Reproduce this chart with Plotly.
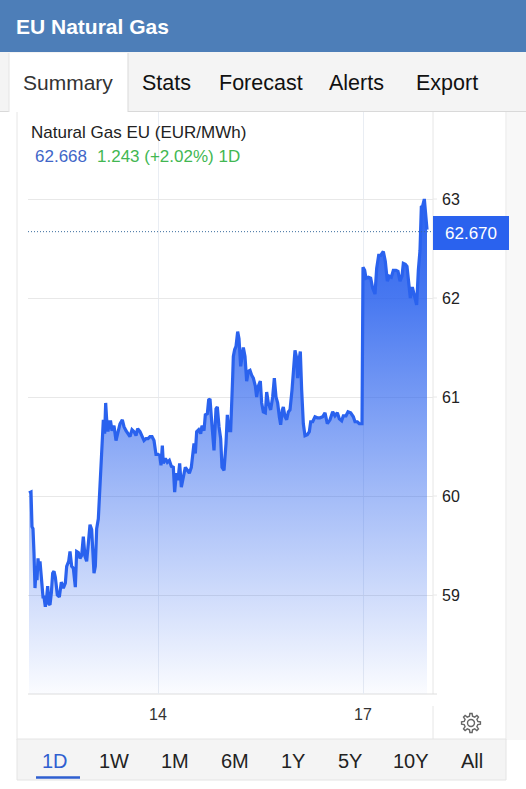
import numpy as np
import plotly.graph_objects as go

W, H = 526, 789

sample_no = [27,33,36,39,42,45,48,51,54,57,60,63,66,69,72,76,80,83,87,90,94,98,102,106,112,118,124,130,136,140,146,150,155,160,166,170,175,180,185,190,195,200,205,210,215,218,222,226,230,235,240,245,250,254,257,260,264,268,272,276,282,288,294,300,307,312,318,324,330,336,342,348,353,360,366,372,378,384,390,396,402,408,414,419,423,427,430,436,442,448,454,460,464,469,474,479,484,490,496,502,508,514,518,522,526,530,536,542,546,552,556,562,566,570,574,578,582,588,592,597,602,606,612,618,622,626,632,638,
640,644,648,653,657,662,666,670,675,680,685,690,695,700,706,710,715,721,725,730,736,740,745,752,758,763,768,773,778,782,787,790,795,800,805,810,816,821,825,829,833,837,841,845,850,855,862,868,872,878,885,892,900,908,915,922,930,938,945,952,958,965,970,978,984,992,1000,1005,1012,1018,1026,
1029,1034,1038,1045,1052,1058,1065,1070,1076,1082,1090,1096,1102,1108,1114,1120,1128,1134,1140,1146,1150,1156,1161,1166,1171,1177,1183,1190,1195,1200,1204,1208,1213,1218,1221]

price = [60.03,60.04,59.69,59.67,59.42,59.07,59.24,59.15,59.37,59.25,59.34,59.22,59.15,58.98,58.98,58.88,58.98,59.09,58.91,58.90,59.02,59.22,59.24,59.18,59.00,58.98,59.13,59.07,59.12,59.29,59.34,59.44,59.29,59.27,59.08,59.44,59.43,59.37,59.40,59.59,59.39,59.34,59.52,59.71,59.66,59.42,59.22,59.29,59.67,59.77,60.09,60.46,60.77,60.63,60.94,60.77,60.65,60.75,60.75,60.66,60.71,60.56,60.66,60.73,60.77,60.70,60.66,60.63,60.60,60.67,60.65,60.61,60.68,60.65,60.61,60.56,60.58,60.58,60.60,60.60,60.56,60.42,60.42,60.41,60.31,60.51,60.33,60.38,60.34,60.36,60.30,60.29,60.04,60.23,60.16,60.33,60.09,60.19,60.29,60.26,60.23,60.29,60.45,60.53,60.43,60.65,60.67,60.63,60.71,60.66,60.82,60.83,60.97,60.98,60.80,60.63,60.46,60.88,60.90,60.70,60.58,60.29,60.26,60.53,60.82,60.66,60.66,61.20,
61.41,61.48,61.51,61.66,61.59,61.31,61.41,61.50,61.41,61.16,61.26,61.27,61.22,61.19,61.11,61.00,61.11,61.16,60.94,60.85,60.84,61.05,60.94,60.87,61.00,61.19,61.00,60.94,60.80,60.72,60.87,60.90,60.80,60.77,60.85,60.87,61.07,61.34,61.47,61.41,61.19,61.37,61.46,61.07,60.73,60.61,60.62,60.65,60.75,60.75,60.80,60.79,60.79,60.80,60.84,60.73,60.77,60.85,60.81,60.84,60.78,60.76,60.81,60.81,60.85,60.84,60.80,60.75,60.75,60.73,60.73,
62.31,62.28,62.20,62.21,62.20,62.10,62.04,62.30,62.43,62.43,62.47,62.37,62.17,62.22,62.21,62.28,62.28,62.27,62.17,62.22,62.35,62.34,62.32,62.11,62.00,62.11,62.01,61.93,62.28,62.48,62.92,62.93,63.00,62.84,62.69]

y_ticks = [59, 60, 61, 62, 63]
x_tick_samples = [414, 1029]
x_tick_labels = ["14", "17"]
last_price = 62.67
last_label = "62.670"
title = "EU Natural Gas"
tabs = ["Summary", "Stats", "Forecast", "Alerts", "Export"]
ranges = ["1D", "1W", "1M", "6M", "1Y", "5Y", "10Y", "All"]

FONT = "Liberation Sans, Arial, sans-serif"
px = lambda x: x / W
py = lambda y: 1 - y / H


def rect(x0, y0, x1, y1, fill, line=None, layer="below"):
    return dict(type="rect", xref="paper", yref="paper", x0=px(x0), x1=px(x1), y0=py(y1), y1=py(y0),
                fillcolor=fill, line=dict(color=line or fill, width=1 if line else 0), layer=layer)


def hline(x0, y0, x1, y1, color, width=1):
    return dict(type="line", xref="paper", yref="paper", x0=px(x0), x1=px(x1), y0=py(y0), y1=py(y1),
                line=dict(color=color, width=width), layer="below")


def text(x, y, s, size, color, anchor="left", bold=False):
    return dict(xref="paper", yref="paper", x=px(x), y=py(y), text=f"<b>{s}</b>" if bold else s,
                showarrow=False, xanchor=anchor, yanchor="middle", align=anchor,
                font=dict(family=FONT, size=size, color=color), borderpad=0, borderwidth=0)


def gear_path(cx, cy, r_out, r_in, teeth=8):
    pts = []
    for i in range(teeth):
        a = 2 * np.pi * i / teeth
        d = 2 * np.pi / teeth
        for frac, r in [(-0.28, r_in), (-0.15, r_out), (0.15, r_out), (0.28, r_in)]:
            t = a + frac * d
            pts.append((cx + r * np.cos(t), cy + r * np.sin(t)))
    return "M" + " L".join(f"{px(x):.5f},{py(y):.5f}" for x, y in pts) + " Z"


shapes = [
    rect(0, 112, W, 740, "#ffffff"),
    rect(507, 112, W, 740, "#f8f8f8"),
    rect(0, 0, W, 52, "#4d7eb8"),
    rect(0, 52, W, 112, "#f4f4f4"),
    hline(0, 111.5, W, 111.5, "#d9d9d9"),
    rect(9, 53, 128, 112, "#ffffff"),
    hline(128, 53, 128, 112, "#d9d9d9"),
    hline(9, 53, 9, 112, "#e4e4e4"),
    hline(17, 112, 17, 740, "#e6e6e6"),
    hline(506, 112, 506, 740, "#e6e6e6"),
    hline(433, 112, 433, 694, "#e6e6e6"),
    hline(433, 706, 433, 739, "#e6e6e6"),
    hline(28, 694, 437, 694, "#dedede"),
    hline(433, 199, 437, 199, "#e8e8e8"),
    hline(433, 298, 437, 298, "#e8e8e8"),
    hline(433, 397, 437, 397, "#e8e8e8"),
    hline(433, 496, 437, 496, "#e8e8e8"),
    hline(433, 595, 437, 595, "#e8e8e8"),
    dict(type="rect", xref="paper", yref="paper", x0=px(17), x1=px(506), y0=py(780), y1=py(739),
         fillcolor="#f4f4f4", line=dict(color="#e4e4e4", width=1), layer="below"),
    hline(36, 777.5, 80, 777.5, "#2f5fd0", 2.5),
    dict(type="line", xref="paper", yref="y", x0=px(28), x1=px(433), y0=last_price, y1=last_price,
         line=dict(color="#3a6d9e", width=1, dash="1px,2px"), layer="above"),
    rect(433, 216, 509, 250, "#2a62ee", layer="above"),
    dict(type="path", xref="paper", yref="paper", path=gear_path(471, 723, 9.5, 7), fillcolor="rgba(0,0,0,0)",
         line=dict(color="#666666", width=1.4), layer="above"),
    dict(type="circle", xref="paper", yref="paper", x0=px(467.5), x1=px(474.5), y0=py(726.5), y1=py(719.5),
         fillcolor="rgba(0,0,0,0)", line=dict(color="#666666", width=1.4), layer="above"),
]

annotations = [
    text(16, 26, title, 21, "#ffffff", bold=True),
    text(31, 132, "Natural Gas EU (EUR/MWh)", 17, "#222222"),
    text(35, 157, "62.668", 17, "#3f66c8"),
    text(97, 157, "1.243 (+2.02%) 1D", 17, "#42b752"),
    text(471, 233.5, last_label, 17, "#ffffff", "center"),
]
for x, s in zip([23, 142, 219, 329, 416], tabs):
    annotations.append(text(x, 83, s, 21.5 if s != "Summary" else 21, "#333333" if s == "Summary" else "#111111"))
for x, s in zip([55, 114, 175, 235, 293, 350, 411, 472], ranges):
    annotations.append(text(x, 761, s, 20, "#2f5fd0" if s == "1D" else "#222222", "center"))

fig = go.Figure(go.Scatter(
    x=sample_no, y=price, mode="lines", line=dict(color="#2a62ee", width=3.2, shape="linear"),
    fill="tozeroy",
    fillgradient=dict(type="vertical", start=63, stop=58,
                      colorscale=[[0, "rgba(42,98,238,1)"], [0.2, "rgba(42,98,238,0.86)"],
                                  [0.57, "rgba(42,98,238,0.46)"], [1, "rgba(42,98,238,0.02)"]]),
    hoverinfo="skip", showlegend=False,
))

fig.update_layout(
    width=W, height=H, margin=dict(l=0, r=0, t=0, b=0), autosize=False,
    paper_bgcolor="#ffffff", plot_bgcolor="rgba(0,0,0,0)",
    font=dict(family=FONT, color="#222222"), shapes=shapes, annotations=annotations,
    xaxis=dict(domain=[px(28), px(433)], range=[24, 1239], tickmode="array",
               tickvals=x_tick_samples, ticktext=x_tick_labels,
               showgrid=True, gridcolor="#e9edf3", gridwidth=1, zeroline=False, showline=False,
               ticks="", ticklabelstandoff=9, tickfont=dict(size=16, color="#333333"), fixedrange=True),
    yaxis=dict(domain=[py(694), py(112)], range=[58, 58 + (694 - 112) / 99], side="right", anchor="x",
               tickmode="array", tickvals=y_ticks, ticktext=[str(v) for v in y_ticks],
               showgrid=True, gridcolor="#e8e8e8", gridwidth=1, zeroline=False, showline=False,
               ticks="", ticklabelstandoff=8, tickfont=dict(size=16, color="#222222"), fixedrange=True),
)

fig.write_html("out.html", config=dict(displayModeBar=False),
               post_script="document.body.style.margin='0';document.body.style.overflow='hidden';")
